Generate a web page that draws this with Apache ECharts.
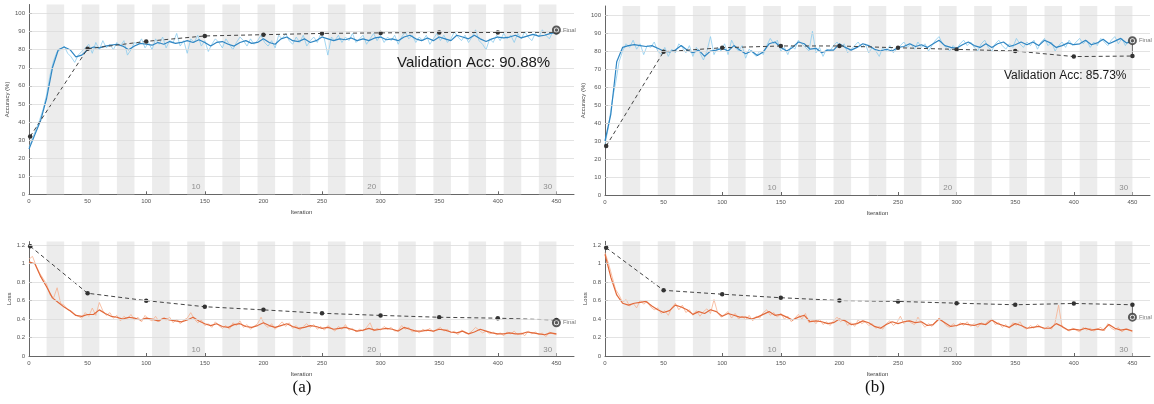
<!DOCTYPE html>
<html><head><meta charset="utf-8">
<script src="https://cdn.jsdelivr.net/npm/echarts@6/dist/echarts.min.js"></script>
<style>html,body{margin:0;padding:0;background:#fff}#c{width:1154px;height:404px}</style>
</head><body><div id="c"></div>
<script>
// ---------- data ----------
const maxIter = 450;
const itersPerEpoch = 15;
const grayEpochs = [2,4,6,8,10,12,14,16,18,20,22,24,26,28,30];
const epochLabels = [10,20,30];
const xTicks = [0,50,100,150,200,250,300,350,400,450];
const accTicks = [0,10,20,30,40,50,60,70,80,90,100];
const lossTicks = [0,0.2,0.4,0.6,0.8,1,1.2];
const valIters = [1,50,100,150,200,250,300,350,400,450];

// (a) accuracy
const accRawA = [26,31,36,41,47,55,66,74,79,80,
82,78,76,73,77,79,81,83,78,84,
80,85,81,83,80,84,82,85,77,80,
84,83,86,81,84,80,86,83,87,81,
85,84,89,82,85,78,86,84,88,82,
85,79,83,86,84,81,86,83,80,84,
87,85,82,86,83,85,88,84,82,85,
81,88,86,89,85,83,87,84,88,82,
85,87,84,89,86,77,87,85,88,84,
87,85,89,84,86,88,83,86,89,85,
88,84,87,85,88,83,87,90,86,88,
84,87,85,88,83,86,89,85,88,84,
86,90,87,85,88,84,87,91,85,83,
80,86,84,88,85,89,86,88,84,89,
86,90,87,85,89,87,91,88,86,90,
88];
const accSmoothA = [25,33,41,53,70,80,81.5,80,76,77,
80,81.5,81,82,82.5,83,82,80,82,83.5,
83,82.5,84,83,84.5,83.5,84,85,84,85.5,
84,82,84,84.5,83,82,84,85,83.5,84,
86,84,83,86,87,85,84.5,86,84,85,
87,86,85,86,85.5,86.5,85,86,85,86.5,
87,85.5,86,85,87,88,86,85,86.5,85,
87,86,85,88,87,86,88,86,84.5,86,
87,86.5,87,88,86.5,87.5,88.5,87.5,88,89,
89.5];
const accValA = [32,80.5,84.6,87.6,88.3,89,89.3,89.5,89.5,89.6];
const accFinalA = 90.88;

// (a) loss
const lossRawA = [1.05,1.08,0.98,0.9,0.84,0.78,0.66,0.63,0.74,0.57,
0.55,0.5,0.49,0.45,0.43,0.41,0.47,0.43,0.52,0.44,
0.58,0.49,0.44,0.47,0.41,0.44,0.38,0.43,0.4,0.45,
0.39,0.42,0.37,0.44,0.4,0.38,0.43,0.37,0.41,0.39,
0.42,0.36,0.4,0.35,0.39,0.41,0.47,0.4,0.36,0.39,
0.33,0.35,0.31,0.37,0.33,0.3,0.33,0.29,0.36,0.33,
0.38,0.31,0.34,0.29,0.32,0.35,0.42,0.34,0.31,0.35,
0.29,0.33,0.37,0.32,0.36,0.3,0.33,0.28,0.32,0.35,
0.31,0.34,0.29,0.32,0.28,0.33,0.3,0.27,0.32,0.29,
0.34,0.28,0.3,0.26,0.29,0.27,0.31,0.36,0.27,0.3,
0.28,0.32,0.29,0.31,0.27,0.28,0.33,0.29,0.31,0.26,
0.28,0.25,0.29,0.27,0.3,0.26,0.29,0.31,0.27,0.29,
0.25,0.27,0.23,0.28,0.25,0.24,0.27,0.31,0.28,0.25,
0.27,0.24,0.26,0.23,0.25,0.22,0.26,0.24,0.27,0.23,
0.25,0.22,0.27,0.24,0.26,0.23,0.25,0.21,0.26,0.24,
0.23];
const lossSmoothA = [1.02,1.0,0.86,0.75,0.63,0.58,0.53,0.49,0.44,0.43,
0.45,0.45,0.5,0.46,0.43,0.42,0.4,0.42,0.41,0.39,
0.41,0.4,0.38,0.41,0.39,0.38,0.37,0.39,0.42,0.38,
0.35,0.33,0.35,0.32,0.31,0.34,0.35,0.32,0.31,0.33,
0.36,0.33,0.31,0.33,0.35,0.32,0.3,0.31,0.33,0.32,
0.3,0.31,0.29,0.3,0.31,0.29,0.27,0.28,0.3,0.28,
0.29,0.3,0.29,0.27,0.31,0.29,0.27,0.27,0.28,0.27,
0.29,0.28,0.26,0.25,0.27,0.24,0.26,0.29,0.27,0.25,
0.24,0.24,0.25,0.24,0.24,0.26,0.25,0.24,0.23,0.25,
0.24];
const lossValA = [1.19,0.68,0.60,0.534,0.50,0.463,0.44,0.42,0.41,0.39];
const lossFinalA = 0.36;

// (b) accuracy
const accRawB = [28,38,52,62,74,80,84,82,86,81,
84,78,83,82,85,80,78,82,77,81,
79,84,82,79,83,77,82,79,75,80,
88,78,82,80,84,78,86,82,80,83,
76,81,79,77,80,78,83,87,84,86,
80,82,78,83,81,86,84,82,80,91,
79,82,77,81,80,83,85,82,84,79,
81,83,85,82,84,79,82,80,77,82,
80,83,79,81,83,85,82,84,81,85,
82,84,80,83,86,88,84,82,80,83,
81,84,86,83,85,82,80,84,86,82,
80,84,86,83,81,84,82,87,84,82,
85,83,86,81,85,87,83,85,80,83,
85,82,86,83,85,87,84,86,82,85,
83,87,85,83,86,88,84,87,83,86,
85];
const accSmoothB = [30,45,74,82,83,83.5,83,82.5,83,81.5,
80,79.5,80.5,83,80.5,79,80.5,77,80,80.5,
81.5,80,83,80.5,78.5,80,77.5,79.5,84,85,
82,80,82,85,84,81,81.5,79,80.5,80.5,
84,82,80.5,82,84,83,81,80,81,80,
82,82.5,84,82.5,83.5,82,84,86,83,82,
81.5,83.5,85,83,82,84,82,84,85,82.5,
83.5,85,83.5,85,83,86,84.5,82,83,84.5,
83.5,84,86,83.5,84.5,86.5,84,85.5,87,84.5,
85];
const accValB = [27.2,79.6,81.8,82.8,82.8,81.8,80.9,80,76.9,77.2];
const accFinalB = 85.73;

// (b) loss
const lossRawB = [1.12,1.0,0.86,0.72,0.66,0.58,0.61,0.54,0.57,0.52,
0.6,0.56,0.59,0.53,0.5,0.52,0.46,0.49,0.44,0.52,
0.57,0.5,0.55,0.47,0.5,0.44,0.49,0.43,0.48,0.51,
0.46,0.61,0.47,0.42,0.45,0.48,0.41,0.46,0.4,0.43,
0.39,0.44,0.38,0.43,0.41,0.47,0.5,0.44,0.47,0.42,
0.46,0.4,0.43,0.37,0.41,0.45,0.4,0.46,0.36,0.39,
0.35,0.4,0.34,0.37,0.33,0.38,0.42,0.37,0.4,0.33,
0.36,0.32,0.39,0.35,0.37,0.33,0.35,0.3,0.32,0.29,
0.35,0.38,0.33,0.36,0.43,0.35,0.39,0.36,0.34,0.42,
0.36,0.31,0.35,0.32,0.37,0.41,0.38,0.33,0.31,0.35,
0.32,0.36,0.33,0.37,0.32,0.35,0.31,0.36,0.34,0.38,
0.4,0.34,0.36,0.31,0.34,0.3,0.36,0.33,0.37,0.31,
0.29,0.33,0.3,0.34,0.31,0.29,0.32,0.29,0.36,0.55,
0.31,0.29,0.27,0.3,0.28,0.26,0.31,0.28,0.3,0.27,
0.29,0.31,0.27,0.35,0.3,0.28,0.31,0.26,0.29,0.28,
0.26];
const lossSmoothB = [1.1,0.85,0.66,0.57,0.55,0.57,0.58,0.59,0.54,0.5,
0.47,0.49,0.55,0.53,0.5,0.45,0.48,0.46,0.5,0.48,
0.43,0.46,0.44,0.42,0.42,0.4,0.42,0.45,0.48,0.44,
0.45,0.42,0.39,0.42,0.44,0.37,0.38,0.37,0.35,0.36,
0.4,0.38,0.34,0.35,0.38,0.36,0.32,0.3,0.34,0.37,
0.35,0.37,0.38,0.36,0.37,0.33,0.34,0.4,0.36,0.32,
0.33,0.35,0.34,0.33,0.35,0.34,0.39,0.35,0.33,0.31,
0.35,0.33,0.3,0.31,0.32,0.3,0.3,0.35,0.32,0.28,
0.29,0.28,0.3,0.28,0.29,0.28,0.34,0.3,0.28,0.29,
0.27];
const lossValB = [1.17,0.71,0.668,0.63,0.60,0.59,0.571,0.554,0.568,0.554];
const lossFinalB = 0.42;

// ---------- chart ----------
const FONT = '"Liberation Sans", Arial, sans-serif';
const chart = echarts.init(document.getElementById('c'));

const grids = [
  {left:29,  top:4.5,   width:545, height:189.8},
  {left:29,  top:241.6, width:545, height:114.4},
  {left:605, top:6,     width:545, height:189},
  {left:605, top:241.3, width:545, height:114.7}
];
const panels = [
  {raw:accRawA,  smooth:accSmoothA,  val:accValA,  fin:accFinalA,  kind:'acc'},
  {raw:lossRawA, smooth:lossSmoothA, val:lossValA, fin:lossFinalA, kind:'loss'},
  {raw:accRawB,  smooth:accSmoothB,  val:accValB,  fin:accFinalB,  kind:'acc'},
  {raw:lossRawB, smooth:lossSmoothB, val:lossValB, fin:lossFinalB, kind:'loss'}
];
const kinds = {
  acc:  {max:105,  ticks:accTicks,  name:'Accuracy (%)', gap:19, raw:'#8ccbee', smooth:'#2f86c3', epochY:4},
  loss: {max:1.24, ticks:lossTicks, name:'Loss',         gap:17, raw:'#f6b190', smooth:'#e2693a', epochY:0.07}
};
const toPairs = arr => arr.map((v,i) => [i*maxIter/(arr.length-1), v]);
const axisColor = '#666';

const xAxes = [], yAxes = [], series = [];
panels.forEach((p, i) => {
  const k = kinds[p.kind];
  xAxes.push({
    type:'value', gridIndex:i, min:0, max:465,
    name:'Iteration', nameLocation:'middle', nameGap:15,
    nameTextStyle:{fontSize:6, color:'#444', fontFamily:FONT},
    axisLine:{show:true, lineStyle:{color:axisColor, width:1}},
    axisTick:{show:true, inside:true, length:3, customValues:xTicks, lineStyle:{color:axisColor}},
    axisLabel:{customValues:xTicks, fontSize:6, color:'#555', margin:4, fontFamily:FONT},
    splitLine:{show:false}
  });
  yAxes.push({
    type:'value', gridIndex:i, min:0, max:k.max,
    name:k.name, nameLocation:'middle', nameGap:k.gap,
    nameTextStyle:{fontSize:6, color:'#444', fontFamily:FONT},
    axisLine:{show:true, lineStyle:{color:axisColor, width:1}},
    axisTick:{show:true, inside:true, length:3, customValues:k.ticks, lineStyle:{color:axisColor}},
    axisLabel:{customValues:k.ticks, fontSize:6, color:'#555', margin:4, fontFamily:FONT},
    splitLine:{show:false}
  });
  // gray epoch bands + horizontal grid lines
  series.push({
    type:'line', xAxisIndex:i, yAxisIndex:i, data:[[0,0]], symbol:'none',
    lineStyle:{opacity:0}, silent:true, z:1,
    markArea:{silent:true, itemStyle:{color:'#ececec'},
      data: grayEpochs.map(e => [{xAxis:(e-1)*itersPerEpoch},{xAxis:e*itersPerEpoch}])},
    markLine:{silent:true, symbol:['none','none'], label:{show:false},
      lineStyle:{color:'#dcdcdc', type:'solid', width:0.8},
      data: k.ticks.filter(v => v > 0).map(v => ({yAxis:v}))}
  });
  // raw training
  series.push({
    type:'line', xAxisIndex:i, yAxisIndex:i, data:toPairs(p.raw), symbol:'none',
    lineStyle:{color:k.raw, width:0.8}, z:2, silent:true
  });
  // smoothed training
  series.push({
    type:'line', xAxisIndex:i, yAxisIndex:i, data:toPairs(p.smooth), symbol:'none',
    lineStyle:{color:k.smooth, width:1.2}, z:3, silent:true
  });
  // validation
  series.push({
    type:'line', xAxisIndex:i, yAxisIndex:i, data:valIters.map((x,j) => [x, p.val[j]]),
    symbol:'circle', symbolSize:4.5, itemStyle:{color:'#333'},
    lineStyle:{color:'#444', width:1, type:[4,3]}, z:4, silent:true
  });
  // connector to final
  series.push({
    type:'line', xAxisIndex:i, yAxisIndex:i,
    data:[[maxIter, p.val[p.val.length-1]], [maxIter, p.fin]], symbol:'none',
    lineStyle:{color:'#444', width:0.8}, z:4, silent:true
  });
  // final marker
  series.push({
    type:'scatter', xAxisIndex:i, yAxisIndex:i, data:[[maxIter, p.fin]],
    symbol:'emptyCircle', symbolSize:7,
    itemStyle:{color:'#333', borderColor:'#333', borderWidth:1.2}, z:5, silent:true,
    label:{show:true, position:'right', distance:2, formatter:'Final', fontSize:6, color:'#555', fontFamily:FONT}
  });
  series.push({
    type:'scatter', xAxisIndex:i, yAxisIndex:i, data:[[maxIter, p.fin]],
    symbol:'circle', symbolSize:3.5, itemStyle:{color:'#333'}, z:6, silent:true
  });
  // epoch labels
  series.push({
    type:'scatter', xAxisIndex:i, yAxisIndex:i,
    data: epochLabels.map(e => [(e-0.5)*itersPerEpoch, k.epochY, e]),
    symbolSize:0, silent:true, z:6,
    label:{show:true, position:'inside', formatter: q => String(q.value[2]),
      fontSize:8, color:'#777', fontFamily:FONT}
  });
});

chart.setOption({
  animation:false,
  backgroundColor:'#fff',
  grid: grids.map(g => Object.assign({outerBoundsMode:'none', containLabel:false}, g)),
  xAxis: xAxes,
  yAxis: yAxes,
  series: series,
  graphic: [
    {type:'text', x:397, y:63, style:{text:'Validation Acc: ' + accFinalA.toFixed(2) + '%', fontSize:15,
      fontFamily:FONT, fill:'#1a1a1a', verticalAlign:'middle', align:'left'}, z:10},
    {type:'text', x:1004, y:75.5, style:{text:'Validation Acc: ' + accFinalB.toFixed(2) + '%', fontSize:12,
      fontFamily:FONT, fill:'#1a1a1a', verticalAlign:'middle', align:'left'}, z:10},
    {type:'text', x:302, y:388, style:{text:'(a)', fontSize:17, fontFamily:'"Liberation Serif", "Times New Roman", serif',
      fill:'#111', align:'center', verticalAlign:'middle'}},
    {type:'text', x:875, y:388, style:{text:'(b)', fontSize:17, fontFamily:'"Liberation Serif", "Times New Roman", serif',
      fill:'#111', align:'center', verticalAlign:'middle'}}
  ]
});
</script>
</body></html>
